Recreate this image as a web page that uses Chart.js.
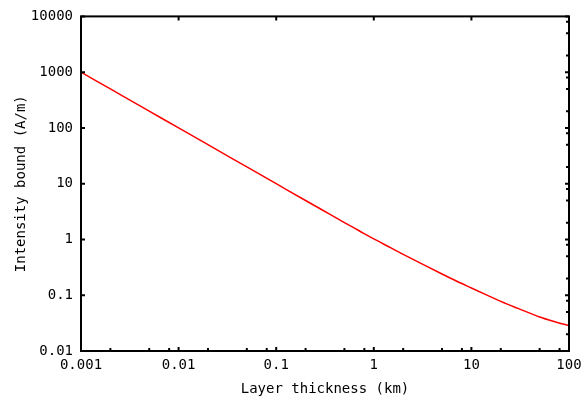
<!DOCTYPE html>
<html>
<head>
<meta charset="utf-8">
<script src="https://cdn.jsdelivr.net/npm/chart.js@4"></script>
<style>
  html, body { margin: 0; padding: 0; background: #fff; }
  #wrap { width: 586px; height: 401px; }
</style>
</head>
<body>
<div id="wrap"><canvas id="chart"></canvas></div>
<script>
// values (log-log)
const thickness = [0.001, 0.002, 0.005, 0.01, 0.02, 0.05, 0.1, 0.2, 0.3, 0.5, 0.7, 1, 1.5, 2, 3, 5, 7, 10, 15, 20, 30, 50, 70, 100];
const intensity = [1000, 500, 200, 100, 50, 20, 10, 5, 3.34, 2.01, 1.448, 1.023, 0.706, 0.541, 0.377, 0.24, 0.18, 0.135, 0.0975, 0.0775, 0.058, 0.0408, 0.0339, 0.0285];

const xTicks = [0.001, 0.01, 0.1, 1, 10, 100];
const xTickLabels = ['0.001', '0.01', '0.1', '1', '10', '100'];
const yTicks = [0.01, 0.1, 1, 10, 100, 1000, 10000];
const yTickLabels = ['0.01', '0.1', '1', '10', '100', '1000', '10000'];
const minorSteps = [2, 5, 8];

const font = { family: 'DejaVu Sans Mono', size: 14 };

// frame + inward tick marks, gnuplot style
const frameTicks = {
  id: 'frameTicks',
  afterDatasetsDraw(chart) {
    const { ctx, chartArea: a, scales } = chart;
    const xs = scales.x, ys = scales.y;
    ctx.save();
    ctx.strokeStyle = '#000';
    ctx.lineWidth = 2;
    ctx.strokeRect(a.left, a.top, a.right - a.left, a.bottom - a.top);
    ctx.beginPath();
    xTicks.forEach(v => {
      const px = xs.getPixelForValue(v);
      ctx.moveTo(px, a.bottom); ctx.lineTo(px, a.bottom - 4);
      ctx.moveTo(px, a.top); ctx.lineTo(px, a.top + 4);
      if (v < 100) minorSteps.forEach(m => {
        const mx = xs.getPixelForValue(v * m);
        ctx.moveTo(mx, a.bottom); ctx.lineTo(mx, a.bottom - 3);
      });
    });
    yTicks.forEach(v => {
      const py = ys.getPixelForValue(v);
      ctx.moveTo(a.left, py); ctx.lineTo(a.left + 4, py);
      ctx.moveTo(a.right, py); ctx.lineTo(a.right - 4, py);
      if (v < 10000) minorSteps.forEach(m => {
        const my = ys.getPixelForValue(v * m);
        ctx.moveTo(a.right, my); ctx.lineTo(a.right - 3, my);
      });
    });
    ctx.stroke();
    ctx.restore();
  }
};

new Chart(document.getElementById('chart'), {
  type: 'line',
  data: {
    datasets: [{
      data: thickness.map((x, i) => ({ x: x, y: intensity[i] })),
      borderColor: '#ff0000',
      borderWidth: 1.5,
      pointRadius: 0,
      tension: 0.3,
      cubicInterpolationMode: 'monotone'
    }]
  },
  options: {
    responsive: true,
    maintainAspectRatio: false,
    animation: false,
    layout: { padding: { top: 16, right: 17, bottom: 1, left: 0 } },
    plugins: { legend: { display: false }, tooltip: { enabled: false } },
    scales: {
      x: {
        type: 'logarithmic',
        min: 0.001,
        max: 100,
        afterBuildTicks: s => { s.ticks = xTicks.map(v => ({ value: v })); },
        afterFit: s => { s.height = 49; s.paddingLeft = 0; s.paddingRight = 0; },
        grid: { display: false, drawTicks: false },
        border: { display: false },
        ticks: {
          color: '#000', font: font, padding: 6, maxRotation: 0, autoSkip: false,
          callback: (v, i) => xTickLabels[i]
        },
        title: { display: true, text: 'Layer thickness (km)', color: '#000', font: font, padding: 2 }
      },
      y: {
        type: 'logarithmic',
        min: 0.01,
        max: 10000,
        afterBuildTicks: s => { s.ticks = yTicks.map(v => ({ value: v })); },
        afterFit: s => { s.width = 81; },
        grid: { display: false, drawTicks: false },
        border: { display: false },
        ticks: {
          color: '#000', font: font, padding: 8, autoSkip: false,
          callback: (v, i) => yTickLabels[i]
        },
        title: { display: true, text: 'Intensity bound (A/m)', color: '#000', font: font, padding: 13 }
      }
    }
  },
  plugins: [frameTicks]
});
</script>
</body>
</html>
